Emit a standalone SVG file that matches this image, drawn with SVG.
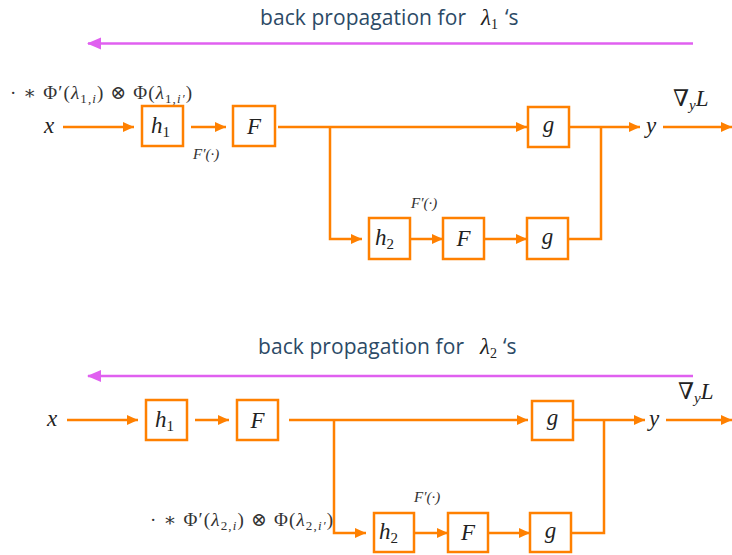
<svg xmlns="http://www.w3.org/2000/svg" width="732" height="555" viewBox="0 0 732 555">
<style>
.box{fill:#fff;stroke:#ff8000;stroke-width:2.5}
.ln{fill:none;stroke:#ff8000;stroke-width:2.5}
.bp{fill:none;stroke:#e060f0;stroke-width:2.5}
.title{font-family:"Open Sans","Liberation Sans",sans-serif;font-size:21px;fill:#2c4a66}
.m{font-family:"Liberation Serif","DejaVu Serif",serif;font-style:italic;font-size:23px;fill:#222}
.f{font-family:"Liberation Serif","DejaVu Serif",serif;font-size:19px;fill:#333}
.fi{font-style:italic}
.lab{font-family:"Liberation Serif","DejaVu Serif",serif;font-style:italic;font-size:15px;fill:#333}
.sub{font-style:normal;font-size:15px}
</style>
<defs>
<marker id="oa" markerUnits="userSpaceOnUse" markerWidth="12" markerHeight="12" refX="11" refY="6" orient="auto"><path d="M0,1 L11,6 L0,11 Z" fill="#ff8000"/></marker>
<marker id="pa" markerUnits="userSpaceOnUse" markerWidth="14" markerHeight="14" refX="13" refY="7" orient="auto"><path d="M0,1 L14,7 L0,13 Z" fill="#e060f0"/></marker>
</defs>

<g id="top-title">
<text class="title" x="260" y="25" textLength="206" lengthAdjust="spacing">back propagation for</text>
<text class="m" x="481" y="25" font-size="21">λ<tspan font-style="normal" font-size="14" dy="4">1</tspan></text>
<text class="title" x="505" y="25">‘s</text>
</g>
<g id="bottom-title">
<text class="title" x="258" y="354" textLength="206" lengthAdjust="spacing">back propagation for</text>
<text class="m" x="480" y="354" font-size="21">λ<tspan font-style="normal" font-size="14" dy="4">2</tspan></text>
<text class="title" x="503" y="354">‘s</text>
</g>

<g id="connectors">
<!-- top -->
<path class="bp" d="M693,43.5 H88" marker-end="url(#pa)"/>
<path class="ln" d="M63,127 H134" marker-end="url(#oa)"/>
<path class="ln" d="M191,127 H226" marker-end="url(#oa)"/>
<path class="ln" d="M278,127 H527" marker-end="url(#oa)"/>
<path class="ln" d="M330,127 V239 H362" marker-end="url(#oa)"/>
<path class="ln" d="M410,239 H443" marker-end="url(#oa)"/>
<path class="ln" d="M484,239 H527" marker-end="url(#oa)"/>
<path class="ln" d="M568,239 H601 V127"/>
<path class="ln" d="M569,127 H640" marker-end="url(#oa)"/>
<path class="ln" d="M663,127 H732" marker-end="url(#oa)"/>
<!-- bottom -->
<path class="bp" d="M693,376 H88" marker-end="url(#pa)"/>
<path class="ln" d="M67,420 H138" marker-end="url(#oa)"/>
<path class="ln" d="M195,420 H229" marker-end="url(#oa)"/>
<path class="ln" d="M289,420 H528" marker-end="url(#oa)"/>
<path class="ln" d="M334,420 V533 H366" marker-end="url(#oa)"/>
<path class="ln" d="M414,533 H448" marker-end="url(#oa)"/>
<path class="ln" d="M488,533 H530" marker-end="url(#oa)"/>
<path class="ln" d="M571,533 H604 V420"/>
<path class="ln" d="M573,420 H645" marker-end="url(#oa)"/>
<path class="ln" d="M666,420 H732" marker-end="url(#oa)"/>
</g>

<g id="top-labels">
<text class="f" x="10" y="99" textLength="182" lengthAdjust="spacing">· ∗ Φ′(<tspan class="fi">λ</tspan><tspan font-size="13" dy="4">1,<tspan class="fi">i</tspan></tspan><tspan dy="-4">) ⊗ Φ(</tspan><tspan class="fi">λ</tspan><tspan font-size="13" dy="4">1,<tspan class="fi">i′</tspan></tspan><tspan dy="-4">)</tspan></text>
<text class="m" x="44" y="133">x</text>
<text class="lab" x="193" y="159">F′(·)</text>
<text class="lab" x="411" y="208">F′(·)</text>
<text class="m" x="646" y="133">y</text>
<text class="m" x="673" y="106"><tspan font-style="normal">∇</tspan><tspan font-size="15" dy="4">y</tspan><tspan dy="-4">L</tspan></text>
</g>
<g id="bottom-labels">
<text class="f" x="150" y="526" textLength="183" lengthAdjust="spacing">· ∗ Φ′(<tspan class="fi">λ</tspan><tspan font-size="13" dy="4">2,<tspan class="fi">i</tspan></tspan><tspan dy="-4">) ⊗ Φ(</tspan><tspan class="fi">λ</tspan><tspan font-size="13" dy="4">2,<tspan class="fi">i′</tspan></tspan><tspan dy="-4">)</tspan></text>
<text class="m" x="47" y="426">x</text>
<text class="lab" x="414" y="502">F′(·)</text>
<text class="m" x="649" y="426">y</text>
<text class="m" x="678" y="399"><tspan font-style="normal">∇</tspan><tspan font-size="15" dy="4">y</tspan><tspan dy="-4">L</tspan></text>
</g>

<g id="top-h1"><rect class="box" x="142" y="106" width="41" height="40"/><text class="m" x="151" y="133">h<tspan class="sub" dy="4">1</tspan></text></g>
<g id="top-F1"><rect class="box" x="233" y="106" width="42" height="40"/><text class="m" x="254" y="134" text-anchor="middle">F</text></g>
<g id="top-g1"><rect class="box" x="528" y="107" width="41" height="40"/><text class="m" x="548.5" y="132" text-anchor="middle">g</text></g>
<g id="top-h2"><rect class="box" x="369" y="218" width="41" height="41"/><text class="m" x="375" y="245">h<tspan class="sub" dy="4">2</tspan></text></g>
<g id="top-F2"><rect class="box" x="443" y="218" width="41" height="41"/><text class="m" x="463.5" y="246" text-anchor="middle">F</text></g>
<g id="top-g2"><rect class="box" x="527" y="218" width="41" height="41"/><text class="m" x="547.5" y="244" text-anchor="middle">g</text></g>

<g id="bottom-h1"><rect class="box" x="146" y="400" width="41" height="40"/><text class="m" x="155" y="427">h<tspan class="sub" dy="4">1</tspan></text></g>
<g id="bottom-F1"><rect class="box" x="237" y="400" width="41" height="40"/><text class="m" x="257.5" y="428" text-anchor="middle">F</text></g>
<g id="bottom-g1"><rect class="box" x="532" y="401" width="41" height="39"/><text class="m" x="552.5" y="425" text-anchor="middle">g</text></g>
<g id="bottom-h2"><rect class="box" x="374" y="513" width="40" height="39"/><text class="m" x="379" y="539">h<tspan class="sub" dy="4">2</tspan></text></g>
<g id="bottom-F2"><rect class="box" x="448" y="513" width="40" height="39"/><text class="m" x="468" y="540" text-anchor="middle">F</text></g>
<g id="bottom-g2"><rect class="box" x="530" y="513" width="41" height="39"/><text class="m" x="550.5" y="538" text-anchor="middle">g</text></g>
</svg>
